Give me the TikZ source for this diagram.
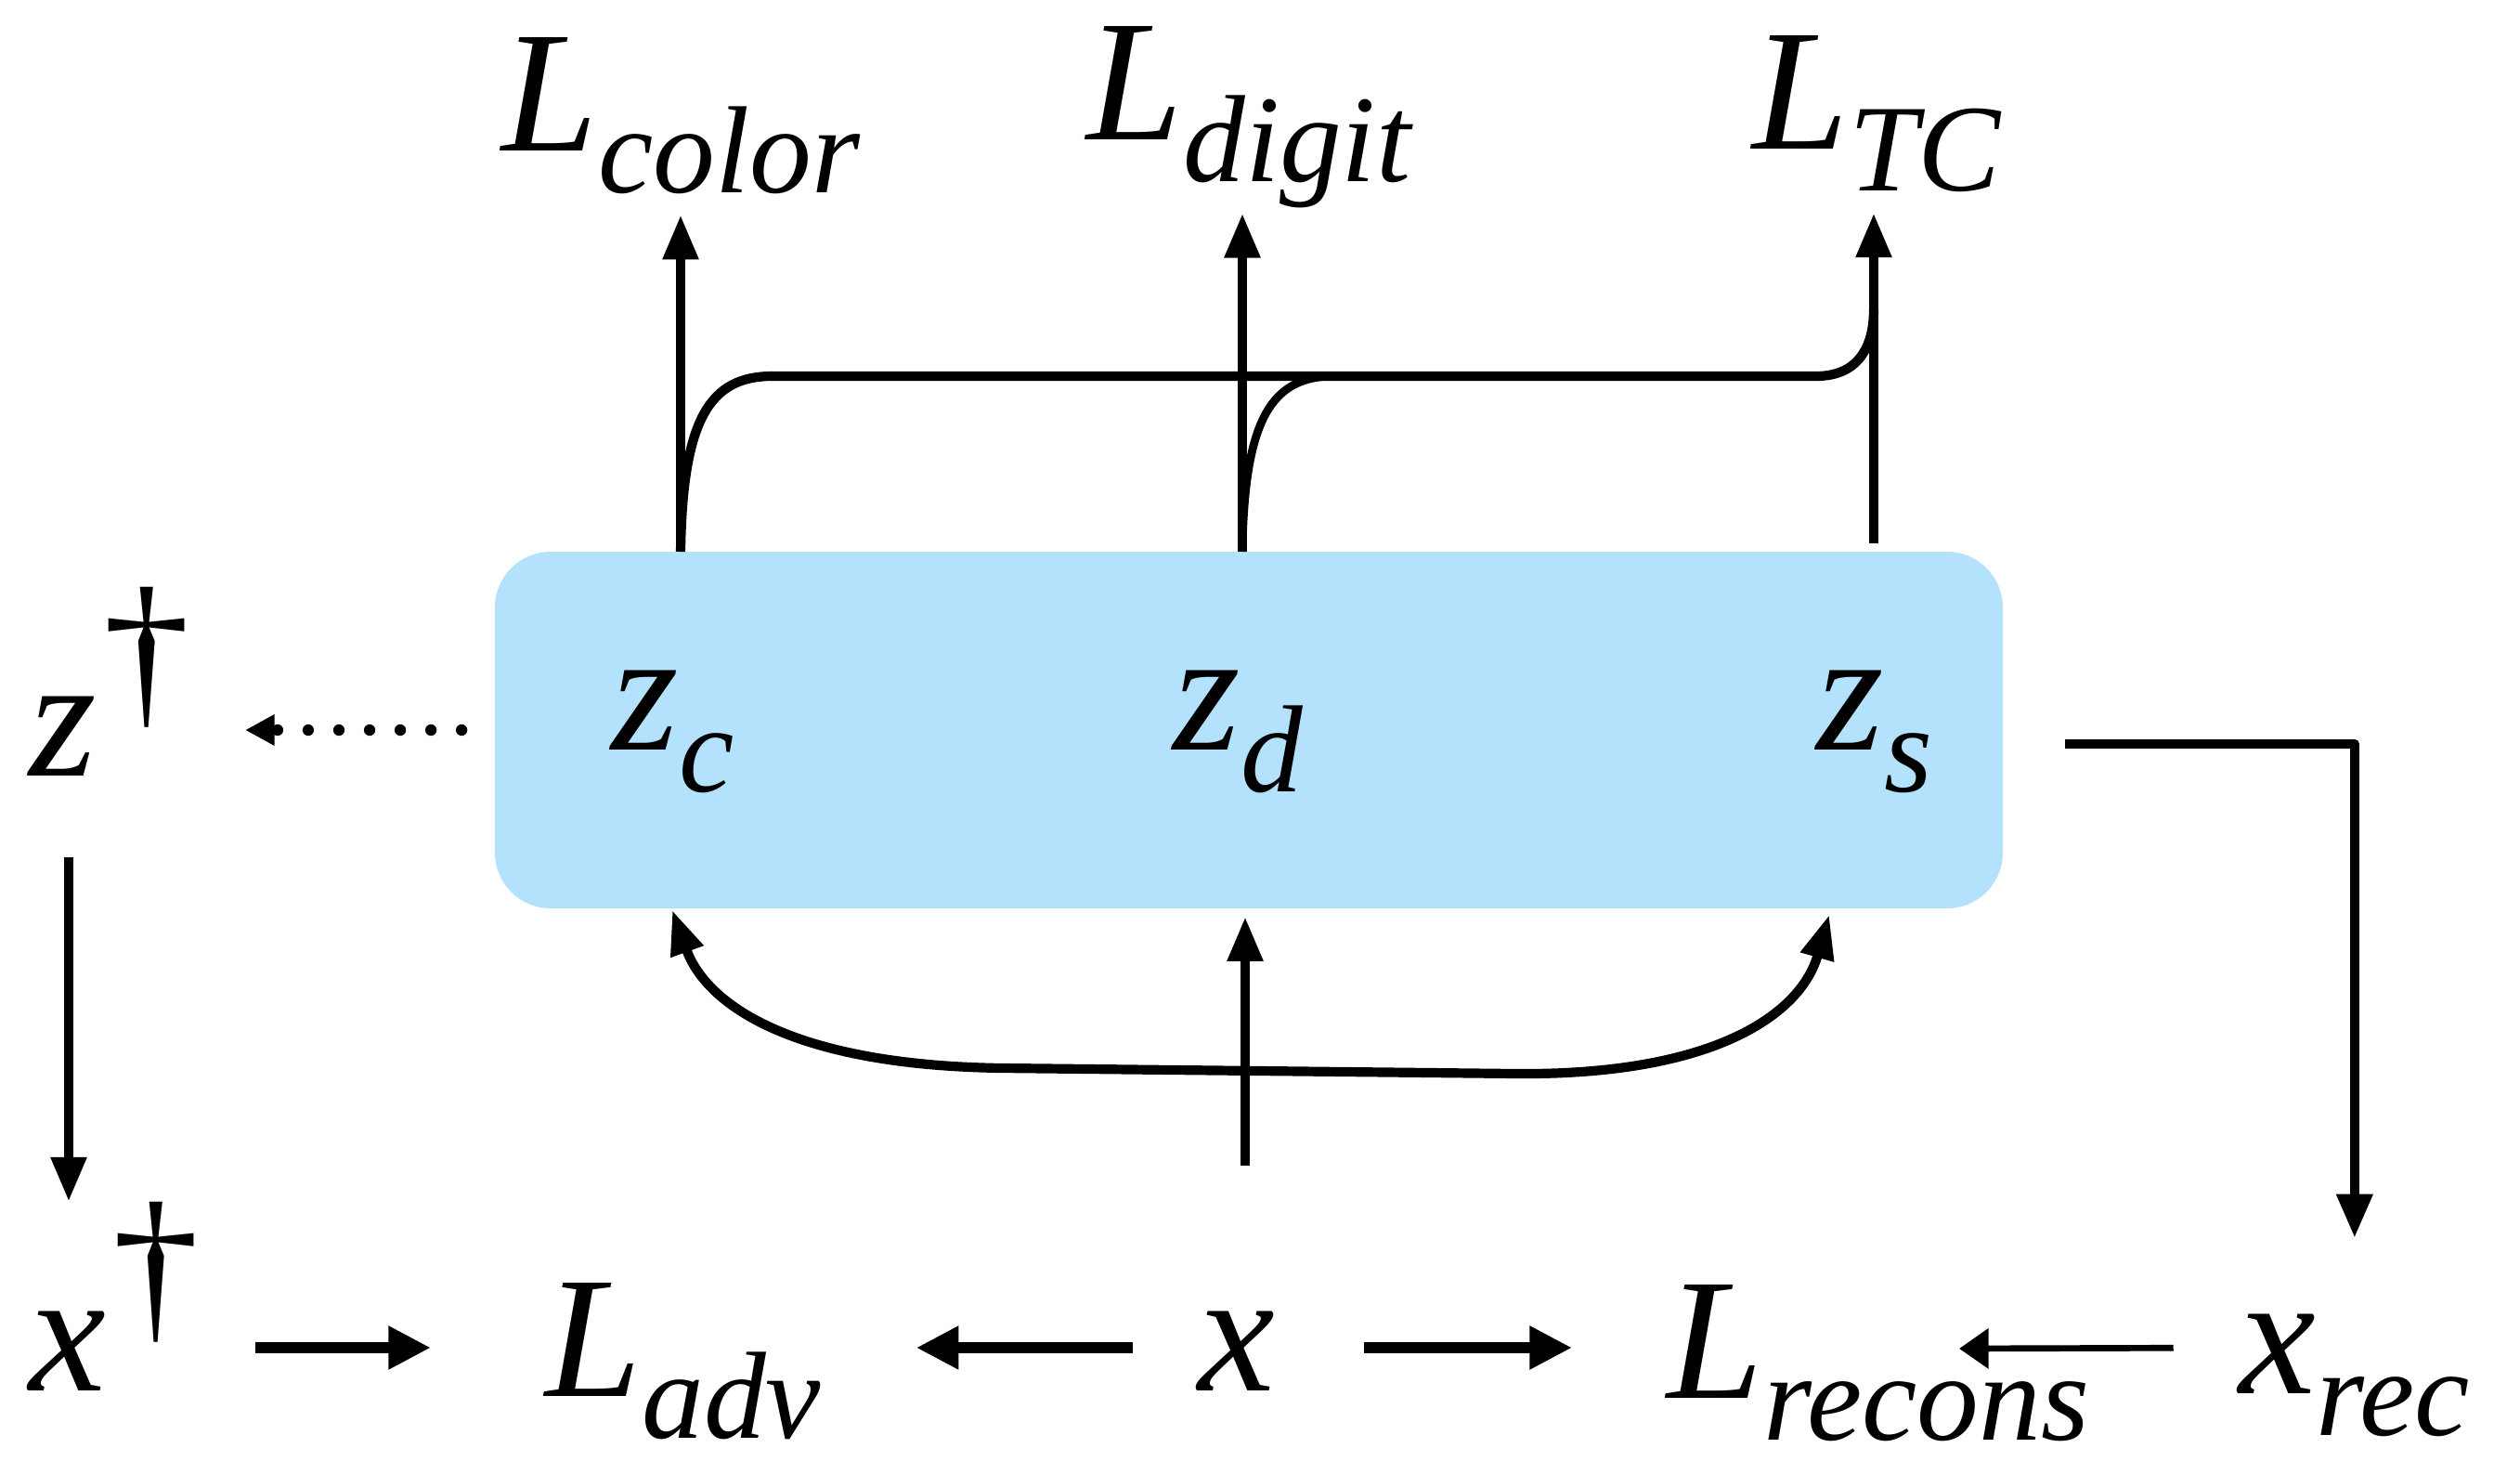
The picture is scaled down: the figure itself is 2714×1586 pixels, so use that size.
\documentclass[tikz,border=0pt]{standalone}
\usepackage{fontspec}
\setmainfont{Liberation Serif}
\usetikzlibrary{arrows.meta}
\definecolor{encblue}{RGB}{180,226,252}
% label with a lowered subscript, and one with a dagger
\newcommand{\lsub}[2]{#1\raisebox{-13pt}{\fontsize{38}{38}\selectfont #2}}
\newcommand{\dg}[1]{#1\kern2pt\raisebox{21pt}{\upshape\textdagger}}

\begin{document}
\begin{tikzpicture}[x=0.1mm, y=-0.1mm, line join=round,
	lbl/.style={inner sep=0pt, anchor=base west, font=\fontsize{53}{60}\selectfont\itshape},
	enc/.style={fill=encblue, rounded corners=6mm, minimum width=162.4mm, minimum height=38.4mm, inner sep=0pt},
	arr/.style={-{Triangle[length=13.5pt,width=10.5pt]}, line width=2.6pt},
	bold arr/.style={-{Triangle[length=13pt,width=12.5pt]}, line width=3.3pt},
	thin arr/.style={-{Triangle[length=9pt,width=12pt]}, line width=1.9pt},
	bracket/.style={line width=2.9pt},
	dots/.style={line width=3.5pt, line cap=round, dash pattern=on 0pt off 9.4pt}]
	\useasboundingbox (0,0) rectangle (2714,1586);
	% encoder box
	\node[enc] (enc) at (1345,786) {};
	\node[lbl] (zc) at (658,807) {\lsub{z}{c}};
	\node[lbl] (zd) at (1263,807) {\lsub{z}{d}};
	\node[lbl] (zs) at (1956,807) {\lsub{z}{s}};
	% losses on top
	\node[lbl] (Lcolor) at (540,162) {\lsub{L}{color}};
	\node[lbl] (Ldigit) at (1170,150) {\lsub{L}{digit}};
	\node[lbl] (LTC) at (1887,160) {\lsub{L}{TC}};
	% left column and bottom row
	\node[lbl] (zdag) at (31,835) {\dg{z}};
	\node[lbl] (xdag) at (31,1497) {\dg{x}};
	\node[lbl] (Ladv) at (587,1503) {\lsub{L}{adv}};
	\node[lbl] (x) at (1290,1497) {x};
	\node[lbl] (Lrecons) at (1795,1505) {\lsub{L}{recons}};
	\node[lbl] (xrec) at (2411,1500) {\lsub{x}{rec}};
	\coordinate (cC) at (733,594);
	\coordinate (cD) at (1338,594);
	\coordinate (cS) at (2018,585);
	\coordinate (xup) at (1341,1255);
	\coordinate (lb) at (724,980);
	\coordinate (rb) at (1970,985);
	\coordinate (zsout) at (2224,801);
	\coordinate (zdown) at (74,923);
	\coordinate (row) at (0,1451);
	\coordinate (recin) at (2110,1452);
	% upward arrows to the losses
	\draw[arr, shorten >=6.3pt] (cC) -- (cC |- Lcolor.south);
	\draw[arr, shorten >=1.5pt] (cD) -- (cD |- Ldigit.south);
	\draw[arr, shorten >=6.3pt] (cS) -- (cS |- LTC.south);
	\draw[bracket] (cC) .. controls (735,450) and (765,405) .. (832,405) -- (1956,405) .. controls (2000,405) and (2018,375) .. (2018,333);
	\draw[line width=2.5pt] (cD) .. controls (1340,450) and (1370,405) .. (1437,405);
	% from x into the box
	\draw[arr, shorten >=2.5pt] (xup) -- (xup |- enc.south);
	\draw[bracket, {Triangle[length=13.5pt,width=10pt]}-{Triangle[length=13.5pt,width=10pt]}] (lb) .. controls (760,1080) and (850,1147) .. (1080,1150) -- (1632,1156) .. controls (1850,1158) and (1940,1090) .. (rb);
	% decoder path and the dotted sample
	\draw[arr, line width=3pt, shorten >=23pt] (zsout) -| (xrec.north);
	\draw[dots, -{Triangle[length=9pt,width=9pt]}, shorten <=10pt, shorten >=16.8pt] (enc.west) -- (enc.west -| zdag.east);
	\draw[arr] (zdown) -- (zdown |- xdag.north);
	% bottom row
	\draw[bold arr, shorten <=17pt, shorten >=35pt] (xdag.east |- row) -- (Ladv.west |- row);
	\draw[bold arr, shorten <=20pt, shorten >=29pt] (x.west |- row) -- (Ladv.east |- row);
	\draw[bold arr, shorten <=27pt, shorten >=29pt] (x.east |- row) -- (Lrecons.west |- row);
	\draw[thin arr, shorten <=20pt] (xrec.west |- row) -- (recin);
\end{tikzpicture}
\end{document}
